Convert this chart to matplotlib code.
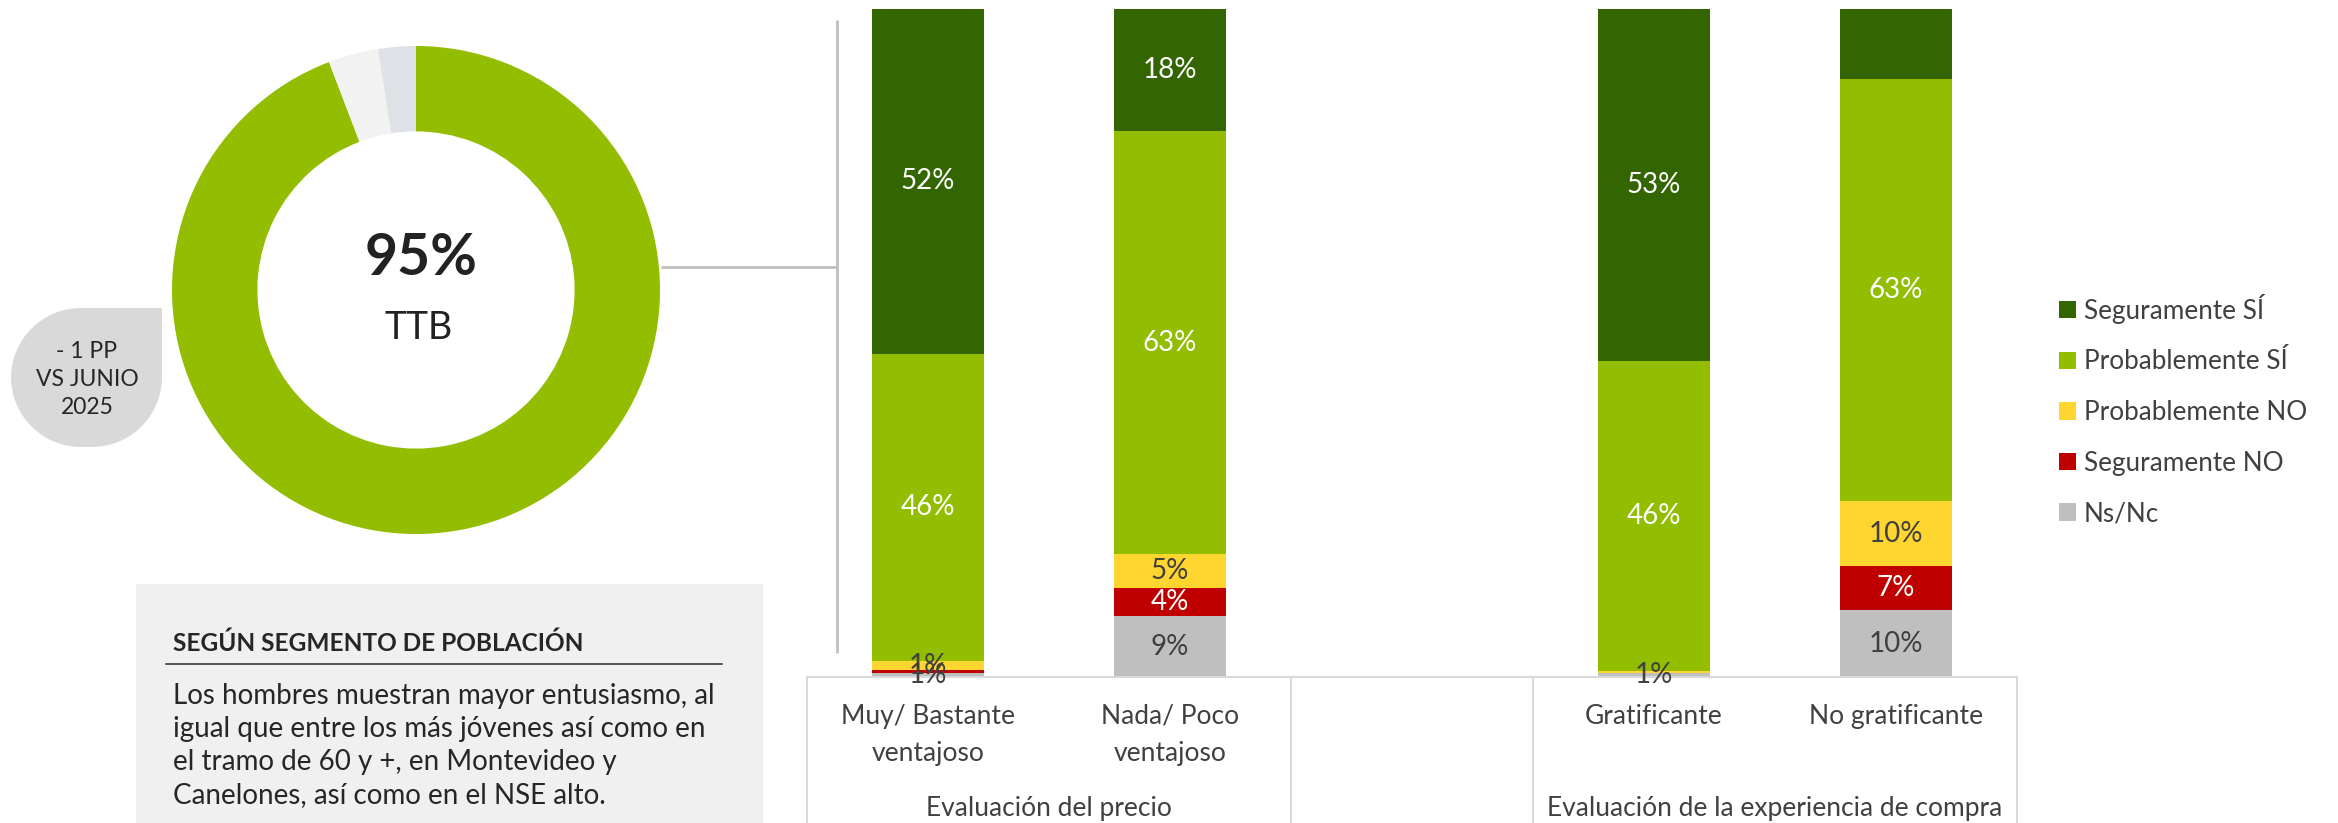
import matplotlib
matplotlib.use("Agg")
import matplotlib.pyplot as plt
import numpy as np
from matplotlib.path import Path
from matplotlib.patches import PathPatch, Rectangle

W, H = 2338, 823

# %%
# Data

series = ["Seguramente SÍ", "Probablemente SÍ", "Probablemente NO", "Seguramente NO", "Ns/Nc"]
categories = ["Muy/ Bastante\nventajoso", "Nada/ Poco\nventajoso", "Gratificante", "No gratificante"]
groups = ["Evaluación del precio", "Evaluación de la experiencia de compra"]
group_sizes = [2, 2]

seguramente_si = [51.6, 18.3, 52.7, 10.5]
probablemente_si = [46.0, 63.3, 46.4, 63.2]
probablemente_no = [1.4, 5.1, 0.3, 9.7]
seguramente_no = [0.4, 4.2, 0.0, 6.6]
ns_nc = [0.6, 9.1, 0.6, 10.0]
# (series, category) segments that carry no label in the source
unlabelled = [(0, 3)]

donut_values = [94.2, 3.3, 2.5]
donut_pct = "95%"
donut_label = "TTB"
badge_lines = ["- 1 PP", "VS JUNIO", "2025"]

note_title = "SEGÚN SEGMENTO DE POBLACIÓN"
note_lines = [
    "Los hombres muestran mayor entusiasmo, al",
    "igual que entre los más jóvenes así como en",
    "el tramo de 60 y +, en Montevideo y",
    "Canelones, así como en el NSE alto.",
]

# %%
# Styles

series_colors = ["#336600", "#92BD00", "#FFD52F", "#C00000", "#BFBFBF"]
label_colors = ["white", "white", "#404040", "white", "#404040"]
donut_colors = ["#92BD00", "#F2F2F2", "#DEE2E6"]
text_dark = "#404040"
line_grey = "#D9D9D9"
FONT = "Lato"

fig = plt.figure(figsize=(W / 100, H / 100), dpi=100)

# overlay in pixel coordinates for the decorations
ov = fig.add_axes([0, 0, 1, 1], zorder=-1)
ov.set_xlim(0, W)
ov.set_ylim(H, 0)
ov.axis("off")

# connector lines between donut and bars
ov.plot([661, 837], [267, 267], color="#BFBFBF", lw=2, solid_capstyle="butt")
ov.plot([837, 837], [20, 653], color="#BFBFBF", lw=2, solid_capstyle="butt")

# note box
ov.add_patch(Rectangle((136, 584), 627, 245, color="#F0F0F0", lw=0))
ov.text(173, 643, note_title, family=FONT, weight="bold", fontsize=17.6,
        color="#262626", va="center", ha="left")
ov.plot([166, 722], [664, 664], color="#3A3A3A", lw=1.2)
for k, line in enumerate(note_lines):
    ov.text(173, 696 + 33 * k, line, family=FONT, fontsize=20,
            color="#262626", va="center", ha="left")

# badge: rounded on three corners, square top-right
x0, x1, y0, y1, r = 11, 162, 308, 447, 70
c = 0.5523 * r
verts = [
    (x1, y0), (x1, y1 - r),
    (x1, y1 - r + c), (x1 - r + c, y1), (x1 - r, y1),
    (x0 + r, y1),
    (x0 + r - c, y1), (x0, y1 - r + c), (x0, y1 - r),
    (x0, y0 + r),
    (x0, y0 + r - c), (x0 + r - c, y0), (x0 + r, y0),
    (x1, y0),
]
codes = [Path.MOVETO, Path.LINETO,
         Path.CURVE4, Path.CURVE4, Path.CURVE4,
         Path.LINETO,
         Path.CURVE4, Path.CURVE4, Path.CURVE4,
         Path.LINETO,
         Path.CURVE4, Path.CURVE4, Path.CURVE4,
         Path.CLOSEPOLY]
ov.add_patch(PathPatch(Path(verts, codes), facecolor="#D9D9D9", lw=0))
for k, line in enumerate(badge_lines):
    ov.text(87, 351 + 28 * k, line, family=FONT, fontsize=16.5,
            color="#262626", ha="center", va="center")

# %%
# Donut

dax = fig.add_axes([(416 - 244) / W, (H - 290 - 244) / H, 488 / W, 488 / H])
dax.pie(donut_values, colors=donut_colors, startangle=90, counterclock=False,
        radius=1, wedgeprops=dict(width=0.35, linewidth=0))
dax.set_xlim(-1, 1)
dax.set_ylim(-1, 1)
dax.text(0.02, 0.13, donut_pct, family=FONT, weight="bold", fontsize=41,
         color="#222222", ha="center", va="center")
dax.text(0.01, -0.155, donut_label, family=FONT, fontsize=27,
         color="#222222", ha="center", va="center")

# %%
# Stacked 100% columns

x_pos = []
group_centers = []
separators = [-0.5]
start = 0
for n in group_sizes:
    pos = list(range(start, start + n))
    x_pos.extend(pos)
    group_centers.append(np.mean(pos))
    separators.append(pos[-1] + 0.5)
    if start + n + 1 <= sum(group_sizes) + len(group_sizes) - 1:
        separators.append(pos[-1] + 1.5)
    start += n + 1
n_slots = start - 1

data = np.array([seguramente_si, probablemente_si, probablemente_no, seguramente_no, ns_nc])
data = data / data.sum(axis=0) * 100

ax = fig.add_axes([807 / W, (H - 677) / H, 1210 / W, 668 / H])
ax.set_xlim(-0.5, n_slots - 0.5)
ax.set_ylim(0, 100)
ax.axis("off")

# stack from the last series (Ns/Nc) at the bottom up to Seguramente SÍ on top
bottom = np.zeros(len(categories))
handles = [None] * len(series)
for i in reversed(range(len(series))):
    bars = ax.bar(x_pos, data[i], 0.46, bottom=bottom, color=series_colors[i],
                  linewidth=0, label=series[i])
    labels = [f"{v:.0f}%" if v >= 0.5 and (i, j) not in unlabelled else ""
              for j, v in enumerate(data[i])]
    ax.bar_label(bars, labels=labels, label_type="center", color=label_colors[i],
                 fontsize=20, family=FONT)
    handles[i] = bars
    bottom += data[i]

# multi-level category axis
xt = ax.get_xaxis_transform()
ax.plot([-0.5, n_slots - 0.5], [0, 0], color=line_grey, lw=1.5, clip_on=False)
for s in separators:
    ax.plot([s, s], [0, -0.25], color=line_grey, lw=1.5, transform=xt, clip_on=False)
for x, cat in zip(x_pos, categories):
    ax.text(x, -0.04, cat, transform=xt, ha="center", va="top", fontsize=19,
            family=FONT, color=text_dark, linespacing=1.6)
for x, g in zip(group_centers, groups):
    ax.text(x, -0.197, g, transform=xt, ha="center", va="center", fontsize=19,
            family=FONT, color=text_dark)

fig.legend(handles=handles, labels=series, loc="center left",
           bbox_to_anchor=(2059 / W, (H - 410) / H), frameon=False,
           prop=dict(family=FONT, size=18.8), labelcolor=text_dark,
           handlelength=0.65, handleheight=0.65, handletextpad=0.3,
           labelspacing=0.98, borderpad=0, borderaxespad=0)

fig.savefig("out.png", dpi=100)
